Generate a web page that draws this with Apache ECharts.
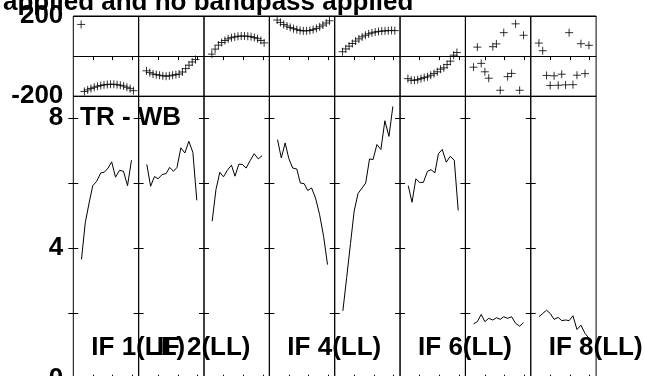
<!DOCTYPE html>
<html><head><meta charset="utf-8">
<script src="https://cdn.jsdelivr.net/npm/echarts@6/dist/echarts.min.js"></script>
<style>html,body{margin:0;padding:0;background:#fff;overflow:hidden}#c{width:645px;height:376px}</style>
</head><body><div id="c"></div><script>
// ---------- data ----------
const titleText = 'applied and no bandpass applied';
const panelLabel = 'TR - WB';
const ifLabels = ['IF 1(LL)', 'IF 2(LL)', '', 'IF 4(LL)', '', 'IF 6(LL)', '', 'IF 8(LL)'];

const phaseTimes = [1.2, 1.7, 2.2, 2.7, 3.2, 3.7, 4.2, 4.7, 5.2, 5.7, 6.2, 6.7, 7.2, 7.7, 8.2, 8.7, 9.2];
const ampTimes = [1.25, 1.83, 2.42, 2.98, 3.57, 4.2, 4.74, 5.33, 5.87, 6.46, 7.07, 7.68, 8.3, 8.9];

const phaseIF1 = [158, -176, -168, -161, -155, -150, -146, -143, -141, -140, -140, -142, -145, -149, -155, -162, -172];
const phaseIF2 = [-73, -82, -89, -92, -95, -98, -100, -98, -95, -92, -89, -79, -62, -45, -29, -17];
const phaseIF3 = [10, 35, 55, 68, 78, 86, 92, 96, 99, 100, 100, 99, 97, 93, 87, 78, 66];
const phaseIF4 = [180, 168, 158, 150, 143, 137, 132, 128, 126, 126, 128, 132, 138, 146, 155, 165, 176];
const phaseIF5 = [22, 36, 50, 63, 75, 86, 96, 104, 111, 116, 120, 123, 125, 126, 127, 128, 127];
const phaseIF6 = [-112, -120, -120, -117, -112, -107, -103, -95, -87, -78, -65, -58, -42, -25, 5, 18];
const phaseIF7 = [-55, 45, -36, -78, -110, 47, 61, -170, 117, -102, -86, 161, -170, 104];
const phaseIF8 = [65, 27, -96, -146, -98, -145, -90, -143, 117, -142, -95, 62, -87, 54];

const ampIF1 = [3.66, 4.78, 5.39, 5.92, 6.05, 6.31, 6.33, 6.46, 6.65, 6.18, 6.39, 6.36, 5.92, 6.70];
const ampIF2 = [6.57, 5.90, 6.20, 6.13, 6.26, 6.29, 6.48, 6.36, 6.48, 7.08, 6.92, 7.28, 6.94, 5.47];
const ampIF3 = [4.83, 5.80, 6.33, 6.19, 6.39, 6.55, 6.21, 6.58, 6.57, 6.46, 6.69, 6.90, 6.74, 6.84];
const ampIF4 = [7.33, 6.77, 7.23, 6.75, 6.46, 6.43, 6.00, 5.98, 5.77, 5.85, 5.54, 5.04, 4.37, 3.50];
const ampIF5 = [2.08, 3.10, 4.15, 5.14, 5.68, 5.85, 6.00, 6.74, 6.72, 7.18, 7.03, 7.91, 7.43, 8.35];
const ampIF6 = [5.92, 5.41, 6.13, 6.02, 6.02, 6.36, 6.41, 6.31, 6.90, 7.03, 6.64, 6.82, 6.70, 5.16];
const ampIF7 = [1.68, 1.75, 1.97, 1.75, 1.85, 1.80, 1.87, 1.82, 1.90, 1.85, 1.90, 1.70, 1.61, 1.72];
const ampIF8 = [1.90, 2.00, 2.10, 2.00, 1.82, 1.88, 1.78, 1.80, 1.78, 1.93, 1.51, 1.64, 1.39, 1.24];

const phaseTickLabels = [-200, 200];
const ampTickValues = [2, 4, 6, 8];
const ampTickLabels = [0, 4, 8];
const timeTickValues = [3, 6, 9];

const phases = [phaseIF1, phaseIF2, phaseIF3, phaseIF4, phaseIF5, phaseIF6, phaseIF7, phaseIF8];
const phaseX = [phaseTimes, phaseTimes, phaseTimes, phaseTimes, phaseTimes, phaseTimes, ampTimes, ampTimes];
const amps = [ampIF1, ampIF2, ampIF3, ampIF4, ampIF5, ampIF6, ampIF7, ampIF8];

// ---------- layout ----------
const FONT = '"Liberation Sans", Arial, Helvetica, sans-serif';
const left0 = 73.3, colW = 65.35;
const phTop = 16, phH = 80.3;
const amTop = 96.3, amH = 282.4;
const ampMax = 8.66;

const grid = [], xAxis = [], yAxis = [], series = [], graphic = [];
const gridStyle = { show: true, borderColor: '#000', borderWidth: 1, backgroundColor: 'transparent',
  containLabel: false, outerBoundsMode: 'none' };
const lbl = { fontFamily: FONT, fontWeight: 'bold', fontSize: 26, color: '#000' };

function xAx(gi, pos) {
  xAxis.push({
    gridIndex: gi, type: 'value', position: pos, min: 0, max: 10,
    axisLine: { show: false },
    axisTick: { show: true, inside: true, length: 4, customValues: timeTickValues, lineStyle: { color: '#000', width: 1 } },
    axisLabel: { show: false }, splitLine: { show: false }
  });
  return xAxis.length - 1;
}

for (let k = 0; k < 8; k++) {
  const left = left0 + k * colW;
  // phase grid
  grid.push(Object.assign({ left: left, width: colW, top: phTop, height: phH }, gridStyle));
  const gP = grid.length - 1;
  const xP = xAx(gP, 'top');
  yAxis.push({
    gridIndex: gP, type: 'value', min: -200, max: 200, interval: 200,
    axisLine: { show: false }, axisTick: { show: false },
    axisLabel: Object.assign({ show: k === 0, margin: 10, customValues: phaseTickLabels }, lbl),
    splitLine: { show: true, lineStyle: { color: '#000', width: 1 } }
  });
  const yP = yAxis.length - 1;
  series.push({
    type: 'scatter', xAxisIndex: xP, yAxisIndex: yP,
    symbol: 'path://M0,5 L10,5 M5,0 L5,10', symbolSize: 8,
    itemStyle: { color: 'transparent', borderColor: '#000', borderWidth: 1 },
    data: phases[k].map((v, i) => [phaseX[k][i], v]), silent: true
  });

  // amplitude grid
  grid.push(Object.assign({ left: left, width: colW, top: amTop, height: amH }, gridStyle));
  const gA = grid.length - 1;
  const xA = xAx(gA, 'top');
  xAx(gA, 'bottom');
  yAxis.push({
    gridIndex: gA, type: 'value', position: 'left', min: 0, max: ampMax,
    axisLine: { show: false },
    axisTick: { show: true, inside: true, length: 5, customValues: ampTickValues, lineStyle: { color: '#000', width: 1 } },
    axisLabel: Object.assign({ show: k === 0, margin: 10, customValues: ampTickLabels }, lbl),
    splitLine: { show: false }
  });
  const yA = yAxis.length - 1;
  yAxis.push({
    gridIndex: gA, type: 'value', position: 'right', min: 0, max: ampMax,
    axisLine: { show: false },
    axisTick: { show: true, inside: true, length: 5, customValues: ampTickValues, lineStyle: { color: '#000', width: 1 } },
    axisLabel: { show: false }, splitLine: { show: false }
  });
  series.push({
    type: 'line', xAxisIndex: xA, yAxisIndex: yA, showSymbol: false, symbol: 'none',
    lineStyle: { color: '#000', width: 1 },
    data: amps[k].map((v, i) => [ampTimes[i], v]), silent: true
  });

  if (ifLabels[k]) {
    graphic.push({ type: 'text', left: left + 18, top: 335, silent: true,
      style: { text: ifLabels[k], font: 'bold 26px ' + FONT, fill: '#000' } });
  }
}

graphic.push({ type: 'text', left: 80, top: 105, silent: true,
  style: { text: panelLabel, font: 'bold 26px ' + FONT, fill: '#000' } });
graphic.push({ type: 'text', left: 3, top: -10, silent: true,
  style: { text: titleText, font: 'bold 26px ' + FONT, fill: '#000' } });

const chart = echarts.init(document.getElementById('c'), null, { renderer: 'canvas' });
chart.setOption({
  animation: false, backgroundColor: '#fff',
  grid, xAxis, yAxis, series, graphic
});
</script></body></html>
